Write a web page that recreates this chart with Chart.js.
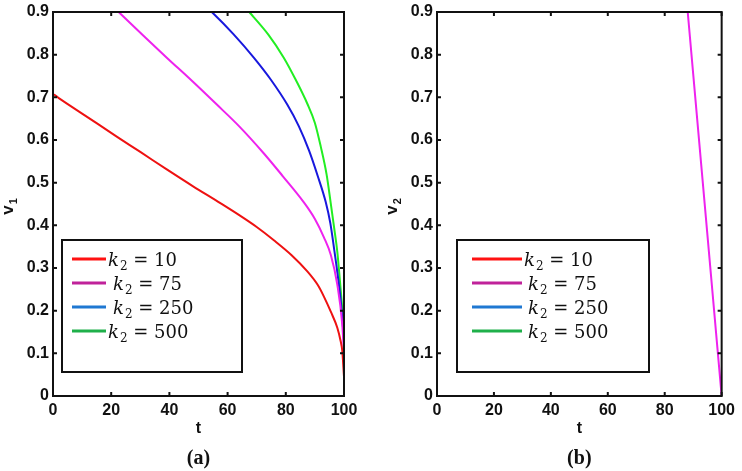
<!DOCTYPE html>
<html>
<head>
<meta charset="utf-8">
<script src="https://cdn.jsdelivr.net/npm/chart.js@4.4.0/dist/chart.umd.min.js"></script>
<style>
  html, body { margin: 0; padding: 0; background: #fff; }
  #wrap { position: relative; width: 742px; height: 471px; background: #fff; }
  canvas { position: absolute; top: 0; }
  #chartA { left: 0; }
  #chartB { left: 370px; }
</style>
</head>
<body>
<div id="wrap">
  <canvas id="chartA" width="370" height="471"></canvas>
  <canvas id="chartB" width="372" height="471"></canvas>
</div>
<script>
// legend entries
const k2Values = [10, 75, 250, 500]
const lineColors = ["#ee1111", "#ee22ee", "#1818dd", "#22ee22"]
const legendColors = ["#ff1111", "#c0229a", "#1f78d2", "#1fb04a"]

// axis ticks
const xTicks = [0, 20, 40, 60, 80, 100]
const yTicks = [0, 0.1, 0.2, 0.3, 0.4, 0.5, 0.6, 0.7, 0.8, 0.9]

// panel (a): v1 against t
const tRedA = [0, 0, 2, 10, 21.9, 30, 39.1, 48, 57.5, 64.4, 70, 75.9, 82, 87.4, 91, 93.1, 95.5, 97.7, 98.8, 99.4, 100]
const vRedA = [1.2, 0.707, 0.698, 0.662, 0.608, 0.572, 0.531, 0.492, 0.452, 0.422, 0.396, 0.365, 0.33, 0.292, 0.26, 0.233, 0.197, 0.16, 0.13, 0.106, 0.045]
const tMagA = [15, 23, 31, 39.1, 48, 56.3, 64, 72.4, 79, 86.2, 90, 93.1, 95.5, 97.7, 99.4, 100]
const vMagA = [0.95, 0.897, 0.845, 0.793, 0.737, 0.683, 0.632, 0.569, 0.515, 0.454, 0.415, 0.372, 0.33, 0.261, 0.168, 0.1]
const tBluA = [48, 55, 62, 69, 75, 80.5, 84.5, 88, 91, 93.7, 95.3, 96.6, 98, 98.9, 100]
const vBluA = [0.94, 0.897, 0.848, 0.793, 0.74, 0.683, 0.632, 0.575, 0.515, 0.455, 0.405, 0.345, 0.275, 0.222, 0.13]
const tGrnA = [62, 67.8, 74, 79.3, 83.5, 87.4, 90, 92, 94, 95.4, 96.7, 97.7, 98.6, 99.2, 100]
const vGrnA = [0.94, 0.897, 0.847, 0.793, 0.74, 0.685, 0.64, 0.585, 0.52, 0.454, 0.39, 0.338, 0.27, 0.222, 0.15]

// panel (b): v2 against t (only the k2 = 75 line shows)
const tMagB = [80, 100]
const vMagB = [1.51, 0]

const tickFont = { family: "'Liberation Sans', Arial, sans-serif", weight: "bold", size: 16, lineHeight: 1 }

function toPoints(ts, vs) {
  return ts.map((t, i) => ({ x: t, y: vs[i] }))
}

function makeDatasets(seriesT, seriesV) {
  return k2Values.map((k, i) => ({
    label: "k2 = " + k,
    data: toPoints(seriesT[i], seriesV[i]),
    borderColor: lineColors[i],
    legendColor: legendColors[i],
    borderWidth: 2,
    pointRadius: 0,
    showLine: true,
    fill: false,
    cubicInterpolationMode: "monotone",
    clip: 0
  }))
}

// box round the plot with inward ticks on all four sides
const framePlugin = {
  id: "frame",
  afterDatasetsDraw(chart) {
    const { ctx, chartArea: a, scales } = chart
    ctx.save()
    ctx.strokeStyle = "#111"
    ctx.lineWidth = 2
    ctx.strokeRect(a.left, a.top, a.right - a.left, a.bottom - a.top)
    ctx.beginPath()
    scales.x.ticks.forEach(t => {
      const px = scales.x.getPixelForValue(t.value)
      ctx.moveTo(px, a.bottom); ctx.lineTo(px, a.bottom - 4)
      ctx.moveTo(px, a.top); ctx.lineTo(px, a.top + 4)
    })
    scales.y.ticks.forEach(t => {
      const py = scales.y.getPixelForValue(t.value)
      ctx.moveTo(a.left, py); ctx.lineTo(a.left + 4, py)
      ctx.moveTo(a.right, py); ctx.lineTo(a.right - 4, py)
    })
    ctx.stroke()
    ctx.restore()
  }
}

// y title with subscript, caption under the panel, k2 legend
const panelTextPlugin = {
  id: "panelText",
  afterDraw(chart, args, opts) {
    const { ctx, chartArea: a } = chart
    ctx.save()
    ctx.fillStyle = "#111"

    // y axis title, rotated
    ctx.save()
    ctx.translate(a.left - 45, (a.top + a.bottom) / 2 + 3)
    ctx.rotate(-Math.PI / 2)
    ctx.font = "bold 17px 'Liberation Sans', Arial, sans-serif"
    const wv = ctx.measureText(opts.yName).width
    ctx.font = "bold 11px 'Liberation Sans', Arial, sans-serif"
    const ws = ctx.measureText(opts.ySub).width
    const sx = -(wv + ws) / 2
    ctx.textBaseline = "alphabetic"
    ctx.font = "bold 17px 'Liberation Sans', Arial, sans-serif"
    ctx.fillText(opts.yName, sx, 5)
    ctx.font = "bold 11px 'Liberation Sans', Arial, sans-serif"
    ctx.fillText(opts.ySub, sx + wv + 1, 9)
    ctx.restore()

    // caption
    ctx.font = "bold 20px 'Liberation Serif', 'Times New Roman', serif"
    ctx.textAlign = "center"
    ctx.textBaseline = "middle"
    ctx.fillText(opts.caption, (a.left + a.right) / 2, 459)

    // legend box
    const L = opts.legend
    const bx = a.left + L.dx, by = a.top + 228
    ctx.lineWidth = 2
    ctx.strokeStyle = "#111"
    ctx.strokeRect(bx, by, L.w, 132)
    ctx.textAlign = "left"
    ctx.textBaseline = "alphabetic"
    chart.data.datasets.forEach((ds, i) => {
      const ry = by + 19 + i * 24
      ctx.strokeStyle = ds.legendColor
      ctx.lineWidth = 3
      ctx.beginPath()
      ctx.moveTo(bx + L.lineX0, ry)
      ctx.lineTo(bx + L.lineX0 + L.lineLen, ry)
      ctx.stroke()
      let tx = bx + L.textX + L.indent[i]
      const base = ry + 7
      ctx.font = "italic 18px 'DejaVu Serif', serif"
      ctx.fillText("k", tx, base)
      tx += ctx.measureText("k").width + 1
      ctx.font = "12px 'DejaVu Serif', serif"
      ctx.fillText("2", tx, base + 4)
      tx += ctx.measureText("2").width
      ctx.font = "18px 'DejaVu Serif', serif"
      ctx.fillText(" = " + k2Values[i], tx, base)
    })
    ctx.restore()
  }
}

function buildPanel(canvasId, datasets, leftWidth, rightPad, yName, ySub, caption, legend) {
  return new Chart(document.getElementById(canvasId), {
    type: "scatter",
    data: { datasets: datasets },
    options: {
      responsive: false,
      animation: false,
      devicePixelRatio: 1,
      layout: { padding: { top: 7, right: rightPad, bottom: 0, left: 0 } },
      plugins: {
        legend: { display: false },
        tooltip: { enabled: false },
        panelText: { yName: yName, ySub: ySub, caption: caption, legend: legend }
      },
      scales: {
        x: {
          type: "linear",
          min: 0,
          max: 100,
          afterBuildTicks: s => { s.ticks = xTicks.map(v => ({ value: v })) },
          afterFit: s => { s.height = 75 },
          grid: { display: false, drawTicks: false },
          border: { display: false },
          ticks: { color: "#111", font: tickFont, padding: 7, maxRotation: 0 },
          title: { display: true, text: "t", color: "#111", font: tickFont, padding: { top: 0, bottom: 34 } }
        },
        y: {
          type: "linear",
          min: 0,
          max: 0.9,
          afterBuildTicks: s => { s.ticks = yTicks.map(v => ({ value: v })) },
          afterFit: s => { s.width = leftWidth },
          grid: { display: false, drawTicks: false },
          border: { display: false },
          ticks: {
            color: "#111",
            font: tickFont,
            padding: 4,
            callback: v => (v === 0 ? "0" : v.toFixed(1))
          }
        }
      }
    },
    plugins: [framePlugin, panelTextPlugin]
  })
}

const chartA = buildPanel(
  "chartA",
  makeDatasets([tRedA, tMagA, tBluA, tGrnA], [vRedA, vMagA, vBluA, vGrnA]),
  53, 26, "v", "1", "(a)",
  { dx: 9, w: 180, lineX0: 10, lineLen: 34, textX: 46, indent: [0, 5, 5, 0] }
)

const chartB = buildPanel(
  "chartB",
  makeDatasets([[], tMagB, [], []], [[], vMagB, [], []]),
  67, 14, "v", "2", "(b)",
  { dx: 20, w: 192, lineX0: 15, lineLen: 50, textX: 67, indent: [0, 4, 4, 4] }
)
</script>
</body>
</html>
